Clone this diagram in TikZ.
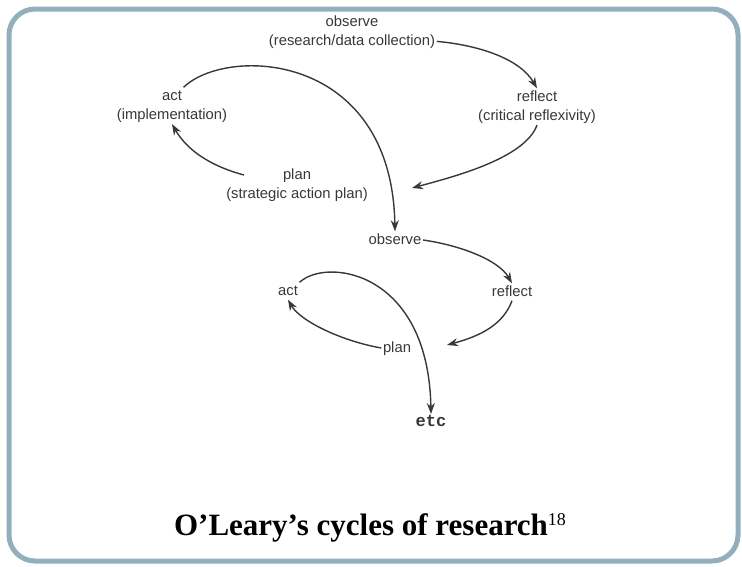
\documentclass[tikz,border=0pt]{standalone}
\usepackage{fontspec}
\setmainfont{Liberation Serif}
\newfontfamily\lblfont{Liberation Sans}
\setmonofont{Liberation Mono}
\usetikzlibrary{positioning,arrows.meta}
\definecolor{framegray}{RGB}{146,176,188}
\definecolor{ink}{RGB}{56,56,56}

\begin{document}
\begin{tikzpicture}[x=1pt,y=1pt,
	lbl/.style={font=\lblfont\fontsize{14.8}{17}\selectfont, text=ink, inner sep=1.5pt, text height=11pt, text depth=3pt},
	cyc/.style={->, line width=1.4pt, draw=ink},
	>={Stealth[length=11pt,width=8pt]}
	]
	
	\useasboundingbox (0,0) rectangle (742,-566);
	\draw [framegray, line width=5pt, rounded corners=26pt] (9,-9) rectangle (738,-561);
	
	% first cycle
	\node[lbl] (obs1) at (352,-22) {observe};
	\node[lbl] (obs1d) [below=2pt of obs1] {(research/data collection)};
	\node[lbl] (ref1) at (537,-97) {reflect};
	\node[lbl] (ref1d) [below=2pt of ref1] {(critical reflexivity)};
	\node[lbl] (plan1) at (297,-175) {plan};
	\node[lbl] (plan1d) [below=2pt of plan1] {(strategic action plan)};
	\node[lbl] (act1) at (172,-96) {act};
	\node[lbl] (act1d) [below=2pt of act1] {(implementation)};
	
	\coordinate (in1) at (412,-188);
	\coordinate (out1) at (244,-175);
	
	% second cycle
	\node[lbl] (obs2) at (395,-240) {observe};
	\node[lbl] (ref2) at (512,-292) {reflect};
	\node[lbl] (plan2) at (397,-348) {plan};
	\node[lbl] (act2) at (288,-291) {act};
	\node[font=\ttfamily\bfseries\fontsize{17}{20}\selectfont, text=ink, inner sep=1pt] (etc) at (431,-421) {etc};
	
	\coordinate (in2) at (447,-345);
	
	\node[font=\bfseries\fontsize{31}{36}\selectfont, anchor=base] (title) at (370,-535)
	{O’Leary’s cycles of research\raisebox{10pt}{\mdseries\fontsize{18}{18}\selectfont 18}};
	
	\draw [cyc] (obs1d.east) .. controls +(-5:40pt) and +(120:35pt) .. (ref1.north);
	\draw [cyc] (ref1d.south) .. controls +(-110:35pt) and +(15:45pt) .. (in1);
	\draw [cyc] (out1) .. controls +(165:35pt) and +(-60:30pt) .. (act1d.south);
	\draw [cyc] (act1.north east) .. controls +(44:60pt) and +(91:180pt) .. (obs2.north);
	
	\draw [cyc] (obs2.east) .. controls +(-8:35pt) and +(120:28pt) .. (ref2.north);
	\draw [cyc] (ref2.south) .. controls +(-110:25pt) and +(15:35pt) .. (in2);
	\draw [cyc] (plan2.west) .. controls +(170:40pt) and +(-60:25pt) .. (act2.south);
	\draw [cyc] (act2.north east) .. controls +(43:37pt) and +(91:143pt) .. (etc.north);
	
\end{tikzpicture}
\end{document}
